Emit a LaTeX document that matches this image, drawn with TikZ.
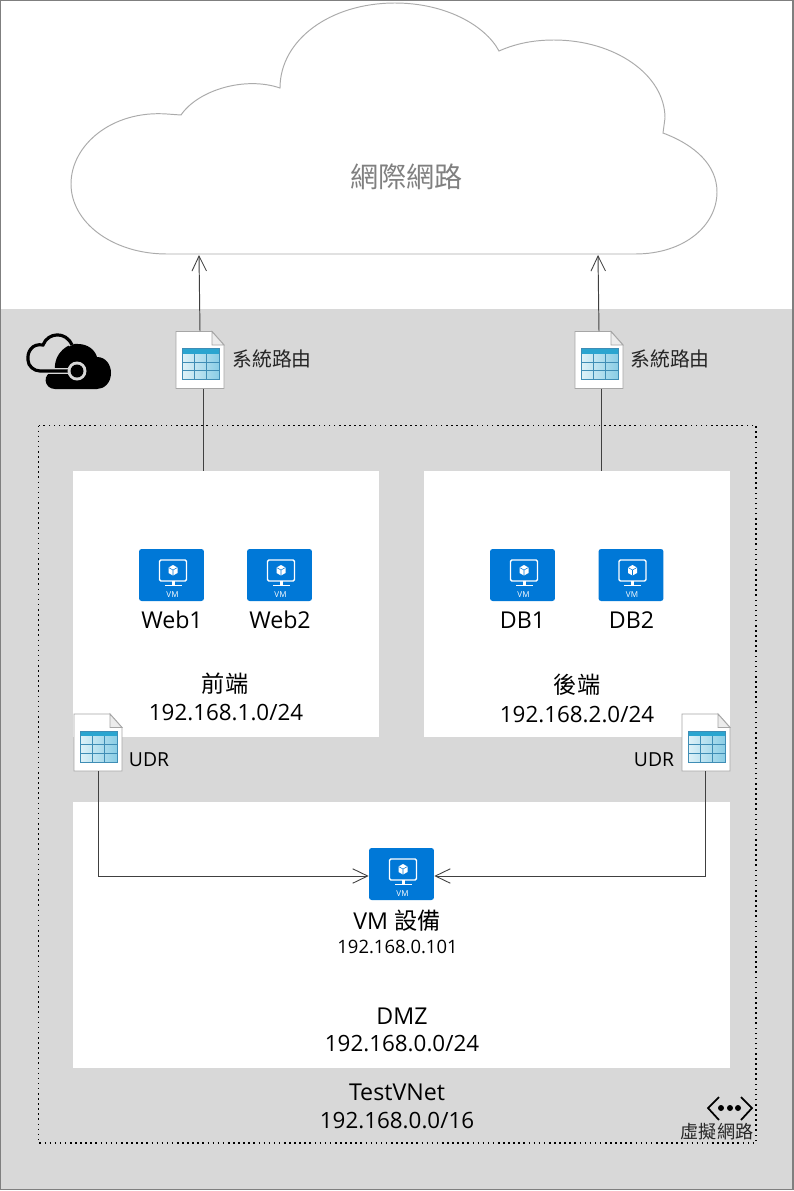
\documentclass[tikz,border=0pt]{standalone}
\usepackage{fontspec}
\setmainfont{Open Sans}
\newfontfamily\cjk{Noto Sans CJK TC}
\usetikzlibrary{arrows.meta}
\definecolor{zonegray}{HTML}{D8D8D8}
\definecolor{vmblue}{HTML}{0078D7}
\definecolor{framegray}{HTML}{7F7F7F}
\definecolor{cloudgray}{HTML}{ABABAB}
\definecolor{linegray}{HTML}{404040}
\definecolor{tablehead}{HTML}{2AA5D0}
\definecolor{tablegrid}{HTML}{3F8DB5}
\tikzset{
    subnetbox/.style={fill=white, draw=none, inner sep=0pt, anchor=north west},
    vmbox/.style={fill=vmblue, draw=none, rounded corners=1.5pt, minimum width=1.3cm, minimum height=1.04cm, inner sep=0pt},
    routebox/.style={draw=none, minimum width=0.96cm, minimum height=1.14cm, inner sep=0pt},
    bigtext/.style={font=\fontsize{13.2}{15}\selectfont, inner sep=0pt, text=black},
    nettext/.style={font=\fontsize{12.75}{15}\selectfont, inner sep=0pt, text=black},
    smalltext/.style={font=\fontsize{10.5}{12}\selectfont, inner sep=0pt, text=black},
    routetext/.style={font=\cjk\fontsize{11.3}{13}\selectfont, inner sep=0pt, text=black!85},
    link/.style={draw=linegray, line width=0.55pt},
    linkarrow/.style={link, -{Straight Barb[length=3mm, width=2.9mm, line width=0.5pt]}},
    vmglyph/.pic={
        \draw[white, line width=0.8pt, rounded corners=0.8pt] (-12,-15) rectangle (15,6);
        \fill[white] (0,6) -- (3,6) -- (3,10) -- (0,10) -- cycle;
        \fill[white] (-7,9.5) rectangle (10,11);
        \fill[white] (1.5,-10) -- (6,-7.5) -- (6,-2) -- (1.5,0.5) -- (-3,-2) -- (-3,-7.5) -- cycle;
        \draw[vmblue, line width=0.3pt] (-3,-7.5) -- (1.5,-5) -- (6,-7.5) (1.5,-5) -- (1.5,0.5);
        \node[text=white, inner sep=0pt, font=\fontsize{4.6}{5}\selectfont] at (1,20) {VM};
    },
    routeglyph/.pic={
        % Page with the folded corner
        \filldraw[fill=white, draw=gray!70, line width=0.5pt] (-24,-28.5) -- (12,-28.5) -- (24,-15) -- (24,28.5) -- (-24,28.5) -- cycle;
        \filldraw[fill=gray!15, draw=gray!70, line width=0.5pt] (12,-28.5) -- (12,-15) -- (24,-15) -- cycle;
        % Table on the page
        \shade[left color=tablehead!15, right color=tablehead!55] (-18,-7) rectangle (19,19.5);
        \fill[tablehead] (-18,-11.5) rectangle (19,-6.5);
        \draw[tablegrid, line width=0.5pt] (-18,-11.5) rectangle (19,19.5);
        \draw[tablegrid, line width=0.5pt] (-18,2.2) -- (19,2.2) (-18,10.5) -- (19,10.5) (-6,-6.5) -- (-6,19.5) (6,-6.5) -- (6,19.5);
    }
}
\begin{document}
\begin{tikzpicture}[x=0.02cm, y=-0.02cm]
    \useasboundingbox (0,0) rectangle (794,1191);
    % Draw the page and the gray zone
    \fill[white] (0,0) rectangle (794,1191);
    \fill[zonegray] (0,309) rectangle (793,1189);
    \draw[framegray, line width=0.8pt] (0.5,0.5) rectangle (793,1189.5);
    % Draw the cloud
    \draw[cloudgray, line width=0.55pt, fill=white] (167,254)
        .. controls (112,254) and (71,222) .. (71,184)
        .. controls (71,145) and (112,110) .. (167,114)
        -- (181,115)
        .. controls (198,90) and (245,76) .. (280,88)
        .. controls (280,40) and (330,3) .. (395,3)
        .. controls (445,3) and (485,25) .. (499,51)
        .. controls (517,43) and (535,40) .. (554,40)
        .. controls (615,40) and (665,75) .. (665,118)
        -- (663,133)
        .. controls (695,145) and (717,165) .. (717,192)
        .. controls (717,225) and (685,254) .. (635,254) -- cycle;
    \node[inner sep=0pt, text=gray, font=\cjk\fontsize{16}{18}\selectfont] (internet) at (406.5,177) {網際網路};
    \coordinate (cloudleft) at (199,255);
    \coordinate (cloudright) at (598,255);
    % Draw the Azure cloud mark
    \fill[black] (55,389) .. controls (44,389) and (41,373) .. (55,371)
        .. controls (53,352) and (70,342) .. (78,344)
        .. controls (88,344) and (95,350) .. (97,357)
        .. controls (106,357) and (111,365) .. (111,373)
        .. controls (111,383) and (104,389) .. (97,389) -- cycle;
    \draw[zonegray, line width=3.6pt] (45,371) -- (72,371);
    \draw[zonegray, line width=3.2pt] (72,345) .. controls (66,331) and (48,332) .. (43,345);
    \draw[black, line width=1.8pt] (72,345) .. controls (66,331) and (48,332) .. (43,345)
        .. controls (32,343) and (27,352) .. (28,360) .. controls (28,366) and (34,371) .. (40,371)
        -- (72,371);
    \fill[zonegray] (77,371) circle (9.5);
    \fill[black] (77,371) circle (6.5);
    % Draw the virtual network border
    \draw[black, line width=0.9pt, dash pattern=on 0.9pt off 2pt] (38.5,425.5) rectangle (756,1143);
    % Draw the three subnets
    \node[subnetbox, minimum width=6.12cm, minimum height=5.32cm] (front) at (73,471) {};
    \node[subnetbox, minimum width=6.12cm, minimum height=5.32cm] (back) at (424,471) {};
    \node[subnetbox, minimum width=13.14cm, minimum height=5.32cm] (dmz) at (73,802) {};
    % Draw the machines
    \node[vmbox] (web1) at (171.5,575) {};
    \pic at (web1) {vmglyph};
    \node[vmbox] (web2) at (279.5,575) {};
    \pic at (web2) {vmglyph};
    \node[vmbox] (db1) at (522.5,575) {};
    \pic at (db1) {vmglyph};
    \node[vmbox] (db2) at (631,575) {};
    \pic at (db2) {vmglyph};
    \node[vmbox] (nva) at (401.5,874) {};
    \pic at (nva) {vmglyph};
    % Draw the route tables
    \node[routebox] (sysleft) at (200,360) {};
    \pic at (sysleft) {routeglyph};
    \node[routebox] (sysright) at (599,360) {};
    \pic at (sysright) {routeglyph};
    \node[routebox] (udrleft) at (98,742.5) {};
    \pic at (udrleft) {routeglyph};
    \node[routebox] (udrright) at (706,742.5) {};
    \pic at (udrright) {routeglyph};
    % Draw the links
    \draw[linkarrow] (sysleft.north) -- (cloudleft);
    \draw[linkarrow] (sysright.north) -- (cloudright);
    \draw[link] ([xshift=3*0.02cm]sysleft.south) -- ([xshift=3*0.02cm]sysleft.south |- front.north);
    \draw[link] ([xshift=2*0.02cm]sysright.south) -- ([xshift=2*0.02cm]sysright.south |- back.north);
    \coordinate (nvaleft) at ([yshift=-2*0.02cm]nva.west);
    \coordinate (nvaright) at ([yshift=-2*0.02cm]nva.east);
    \draw[linkarrow] (udrleft.south) |- (nvaleft);
    \draw[linkarrow] ([xshift=-1*0.02cm]udrright.south) |- (nvaright);
    % Draw the labels
    \node[bigtext] (web1label) at (172,620) {Web1};
    \node[bigtext] (web2label) at (280,620) {Web2};
    \node[bigtext] (db1label) at (522.5,620) {DB1};
    \node[bigtext] (db2label) at (631.5,620) {DB2};
    \node[bigtext] (frontlabel) at (225,684) {\cjk 前端};
    \node[nettext] (frontnet) at (226,712.5) {192.168.1.0/24};
    \node[bigtext] (backlabel) at (577,685) {\cjk 後端};
    \node[nettext] (backnet) at (577,714.5) {192.168.2.0/24};
    \node[bigtext] (nvalabel) at (397,921) {VM {\cjk 設備}};
    \node[smalltext] (nvanet) at (397.5,947) {192.168.0.101};
    \node[bigtext] (dmzlabel) at (402,1016) {DMZ};
    \node[nettext] (dmznet) at (402,1043.5) {192.168.0.0/24};
    \node[bigtext] (vnetlabel) at (397,1092) {TestVNet};
    \node[nettext] (vnetnet) at (397,1120.5) {192.168.0.0/16};
    \node[routetext] (sysleftlabel) at (272,359) {系統路由};
    \node[routetext] (sysrightlabel) at (670,359) {系統路由};
    \node[smalltext, font=\fontsize{11}{13}\selectfont] (udrleftlabel) at (149,759.5) {UDR};
    \node[smalltext, font=\fontsize{11}{13}\selectfont] (udrrightlabel) at (654,759.5) {UDR};
    \node[routetext, font=\cjk\fontsize{10.3}{12}\selectfont] (vnetmark) at (717,1132) {虛擬網路};
    % Draw the network mark
    \draw[black, line width=1pt] (719,1097) -- (708,1108) -- (719,1120);
    \draw[black, line width=1pt] (741,1097) -- (752,1108) -- (741,1120);
    \foreach \dotx in {721,730,738}
        \fill[black] (\dotx,1108) circle (3);
\end{tikzpicture}
\end{document}
